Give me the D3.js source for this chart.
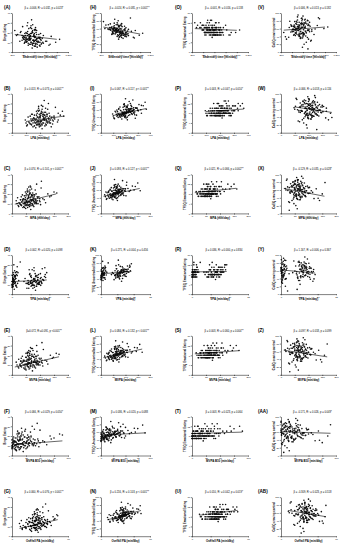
<!DOCTYPE html>
<html><head><meta charset="utf-8">
<script src="https://cdn.jsdelivr.net/npm/d3@7/dist/d3.min.js"></script>
<style>body{margin:0;background:#fff}svg{display:block}text{font-family:"Liberation Sans",Arial,sans-serif}</style>
</head><body>
<svg id="c" width="344" height="550"></svg>
<script>
// participants (x variables)
const sedentary=[520,610,450,700,380,560,640,480,590,730,420,550,670,500,610,350,580,460,690,530,640,410,750,500,570,620,440,680,540,600,470,660,390,560,720,510,630,430,590,700,250,1050,880,300,820,480,560,620,420,760,530,650,400,590,710,460,570,900,340,610,490,680,530,450,740,580,380,640,510,600,980,280,550,620,470,690,430,800,360,520,
540,600,470,650,510,580,430,690,560,620,490,530,710,450,600,570,640,500,520,680,410,590,550,630,480,720,530,610,460,570,660,500,590,440,540,610,700,520,480,650,560,430,620,510,580,470,690,540,600,390,760,510,570,640,450,530,620,860,480,590];
const lpa=[210,180,265,150,300,195,170,240,205,135,280,220,160,250,190,330,200,235,145,215,175,290,125,255,205,185,270,155,225,195,245,165,310,210,140,230,180,275,200,150,360,95,110,345,120,260,215,185,290,130,240,170,305,190,145,255,210,115,325,200,235,160,220,265,135,195,295,175,245,185,100,370,230,280,190,260,140,200,230,330,
225,190,250,175,230,200,270,160,215,185,240,220,150,260,195,205,180,235,225,165,285,200,215,180,245,140,225,190,255,210,170,235,205,265,220,190,155,230,250,175,210,275,185,240,205,250,160,220,195,300,130,230,210,175,265,225,190,105,245,200];
const mpa=[62,48,85,40,96,58,52,74,66,30,110,70,45,80,55,128,61,77,38,68,50,98,28,83,63,53,90,42,72,57,79,47,104,64,35,76,51,93,60,39,150,15,22,140,25,88,67,54,102,33,70,49,115,59,37,82,65,20,120,56,78,44,69,86,31,62,100,48,75,58,18,135,105,45,60,30,70,55,160,85,
65,55,78,47,70,60,88,42,66,52,74,68,38,82,56,63,50,72,69,45,92,58,64,50,76,34,71,55,84,62,46,73,60,86,67,54,40,70,79,48,63,90,53,75,61,81,43,68,57,99,32,72,64,49,87,66,55,24,77,59];
const vpa=[0.4,5.8,6.9,0.2,7.8,1.1,4.9,6.2,0.8,0.1,8.3,5.1,1.5,7.2,0.3,8.9,5.5,0.6,4.3,6.6,0.9,7.5,0.2,5.9,1.3,6.4,7.0,0.5,4.6,0.7,6.8,5.2,8.1,1.0,0.3,6.1,4.7,7.4,0.4,5.6,9.3,0.0,0.1,8.7,3.8,0.5,6.3,1.2,7.7,0.2,5.4,0.6,8.5,4.4,0.1,6.7,1.4,3.5,8.0,0.8,6.0,5.0,0.3,7.1,0.4,5.7,7.9,1.6,6.5,0.2,0.0,9.0,2.2,4.0,8.8,1.8,0.9,5.3,7.6,3.2,
5.2,0.6,6.4,0.3,5.8,1.0,7.1,0.2,4.8,5.5,6.0,0.8,0.1,6.9,4.5,1.2,5.0,6.3,0.5,0.3,7.6,4.9,0.7,5.3,6.6,0.2,1.4,5.7,7.0,0.9,4.4,6.2,0.6,7.3,5.9,1.1,0.2,6.5,6.8,4.2,0.4,7.8,5.1,6.1,0.9,6.7,0.3,5.6,1.3,8.2,0.1,6.4,5.4,0.5,7.2,1.0,4.6,0.0,6.0,5.2];
const mvpa=[62,54,92,40,104,59,57,80,67,30,118,75,47,87,55,137,66,78,42,74,51,105,28,89,64,59,97,43,77,58,86,52,112,65,35,82,56,100,60,45,158,15,22,148,29,88,73,55,110,33,75,50,124,63,37,89,66,24,128,57,84,49,69,93,31,68,108,50,81,58,18,144,107,49,69,32,71,60,168,88,
70,56,84,47,76,61,95,42,71,58,80,69,38,89,61,64,55,78,70,45,100,63,65,55,83,34,72,61,91,63,50,79,61,93,73,55,40,77,86,52,63,98,58,81,62,88,43,74,58,107,32,78,69,50,94,67,60,24,83,64];
const mvpaB10=[18,10,35,5,46,14,8,28,20,2,55,22,6,30,12,68,17,26,4,21,9,40,1,33,15,11,38,5,24,13,29,7,50,16,3,27,10,42,14,6,85,0,0,75,1,36,20,11,48,2,23,8,58,15,3,31,17,0,62,12,25,6,19,34,2,16,44,9,27,13,0,70,45,7,40,5,30,20,90,50,
22,12,30,6,25,15,38,4,20,10,28,19,2,33,13,16,9,27,21,5,41,14,18,9,31,1,23,12,36,17,7,26,15,37,24,11,3,25,32,8,16,40,11,29,17,34,4,22,13,47,1,27,19,6,39,18,10,0,30,14];
const overallPA=[26,22,34,18,38,25,23,30,27,15,40,29,20,32,24,44,26,31,19,28,22,37,14,33,26,24,35,19,29,25,31,21,39,26,17,30,23,36,25,20,48,8,11,46,12,33,28,24,37,16,30,21,41,25,18,32,27,10,42,24,31,20,28,34,15,26,38,22,30,24,9,45,36,27,26,22,22,25,49,38,
28,24,32,21,29,26,35,19,28,24,30,28,17,33,25,26,23,30,28,20,36,26,27,23,31,15,28,25,33,27,21,30,26,34,28,24,18,29,32,22,27,35,24,30,26,32,19,28,25,38,14,29,27,22,34,28,24,11,31,26];
// participants (y variables)
const binge=[12,16,14,10,17,8,13,21,11,9,15,19,11,12,22,20,9,13,14,8,18,13,10,24,7,12,17,15,10,19,11,14,26,9,12,15,20,10,16,6,22,13,8,18,11,30,4,23,9,17,25,5,14,12,19,10,28,16,11,15,7,18,13,20,14,9,12,22,8,16,10,17,33,6,27,14,19,11,21,13,
14,11,19,8,13,16,10,7,21,12,9,17,13,15,6,20,11,18,14,10,16,12,24,9,13,8,19,15,11,22,10,14,18,12,27,9,15,13,17,11,20,13,8,16,12,19,14,10,23,15,9,18,12,14,11,16,25,7,13,17];
const uncontrolled=[55,48,60,46,58,42,53,62,50,44,64,51,57,49,67,70,45,54,60,40,52,63,47,56,38,59,50,66,44,53,61,43,72,55,49,57,65,46,52,41,78,48,36,69,53,84,33,72,45,58,75,35,56,50,62,47,68,55,59,42,46,57,51,64,54,39,63,49,70,52,43,60,80,37,74,56,48,87,58,50,
54,47,62,43,57,51,59,40,65,49,52,60,45,56,41,66,48,58,53,44,63,50,68,46,55,39,61,52,57,64,47,56,59,51,71,42,50,54,62,48,58,53,44,60,49,67,46,55,69,57,42,61,52,50,58,55,73,38,54,60];
const emotional=[9,10,8,9,11,8,10,9,8,9,10,8,9,11,9,12,8,10,9,7,9,11,8,10,7,9,10,12,8,9,10,8,11,9,8,10,12,7,9,8,12,9,7,11,9,13,6,12,8,10,13,7,9,8,10,9,11,8,10,7,8,10,9,11,8,7,9,10,12,9,8,10,13,7,12,9,8,11,10,9,
8,8,9,8,7,9,8,7,10,8,8,9,7,8,7,10,8,9,8,7,9,8,10,7,8,7,9,8,8,10,7,8,9,8,11,7,8,8,9,7,9,8,7,8,7,10,8,7,11,9,7,9,8,8,7,8,10,7,8,9];
const craving=[62,45,78,55,70,38,84,60,50,66,58,35,72,90,48,63,80,42,57,68,74,52,30,65,86,47,69,55,40,92,61,25,67,53,76,44,82,58,36,71,50,64,88,33,59,46,73,20,66,57,42,77,54,12,68,49,62,85,38,70,56,81,44,63,28,74,51,66,95,47,60,39,52,72,58,8,65,45,79,55,
64,50,73,41,59,87,53,68,35,62,76,48,57,66,43,70,54,82,61,37,58,72,46,63,79,52,40,67,56,74,49,61,84,45,69,57,33,65,71,52,60,43,75,55,64,48,80,58,39,66,53,70,47,62,57,76,44,68,51,63];

const xTitles=["Sedentary time (min/day)","LPA (min/day)","MPA (min/day)","VPA (min/day)","MVPA (min/day)","MVPA B10 (min/day)","Overall PA (min/day)"];
const xDomains=[[200,1200],[0,400],[0,200],[0,15],[0,200],[0,100],[0,60]];
const xTicks=[[200,400,600,800,1000,1200],[0,100,200,300,400],[0,50,100,150,200],[0,5,10,15],[0,50,100,150,200],[0,25,50,75,100],[0,20,40,60]];
const yTitles=["Binge Eating","TFEQ Uncontrolled Eating","TFEQ Emotional Eating","CoEQ craving control"];
const yDomains=[[0,40],[0,100],[0,16],[0,100]];
const yTicks=[[0,10,20,30,40],[0,20,40,60,80,100],[0,4,8,12,16],[0,20,40,60,80,100]];
const panelLabels=[["A","B","C","D","E","F","G"],["H","I","J","K","L","M","N"],["O","P","Q","R","S","T","U"],["V","W","X","Y","Z","AA","AB"]];
const stats=[
["β = -0.006, R² = 0.032, p = 0.023*","β = 0.013, R² = 0.073, p = 0.001**","β = 0.074, R² = 0.101, p < 0.001**","β = 0.002, R² = 0.020, p = 0.098","β=0.072, R²=0.091, p <0.001**","β = 0.066, R² = 0.029, p = 0.050*","β = 0.060, R² = 0.076, p < 0.001**"],
["β = -0.024, R² = 0.081, p < 0.001**","β = 0.067, R² = 0.117, p < 0.001**","β = 0.093, R² = 0.127, p < 0.001**","β = 0.271, R² = 0.004, p = 0.456","β = 0.084, R² = 0.132, p < 0.001**","β = 0.036, R² = 0.020, p = 0.088","β = 0.216, R² = 0.103, p < 0.001**"],
["β = -0.001, R² = 0.016, p = 0.138","β = 0.003, R² = 0.047, p = 0.010*","β = 0.021, R² = 0.066, p = 0.002**","β = 0.036, R² = 0.000, p = 0.834","β = 0.003, R² = 0.060, p = 0.004**","β = 0.003, R² = 0.023, p = 0.064","β = 0.010, R² = 0.042, p = 0.019*"],
["β = 0.006, R² = 0.013, p = 0.182","β = -0.066, R² = 0.018, p = 0.116","β = -0.129, R² = 0.035, p = 0.028*","β = 1.167, R² = 0.006, p = 0.367","β = -0.097, R² = 0.018, p = 0.099","β = -0.171, R² = 0.026, p = 0.049*","β = -0.309, R² = 0.023, p = 0.518"]];
// fitted line ends (x range per row, y start/end per panel)
const lineX=[[250,1000],[100,370],[10,158],[0,9.3],[10,168],[0,90],[8,49]];
const lineY=[
[[18,13],[11.5,17],[9.5,20],[12.8,14.5],[8,18.5],[11,15],[8,17]],
[[64,46],[44,62],[44,64],[52,58],[44,66],[52,58],[42,66]],
[[9.6,8.9],[8.7,9.7],[8.5,10.3],[9.1,9.3],[8.6,9.9],[9.0,9.6],[8.6,10.6]],
[[56,64],[66,52],[64,44],[62,54],[63,46],[61,57],[66,50]]];

const xData=[sedentary,lpa,mpa,vpa,mvpa,mvpaB10,overallPA];
const yData=[binge,uncontrolled,emotional,craving];

const svg=d3.select("#c");
const colPlot=[[12,68],[101,150],[192,248],[281,336]];
const colLabel=[4,90,175,258];
const rowPitch=80.7;
const FONT="'Liberation Sans',Arial,sans-serif";

for(let c=0;c<4;c++){
  for(let r=0;r<7;r++){
    const top=r*rowPitch;
    const g=svg.append("g");
    const x=d3.scaleLinear().domain(xDomains[r]).range(colPlot[c]);
    const y=d3.scaleLinear().domain(yDomains[c]).range([top+52,top+13]);
    const xs=xData[r], ys=yData[c];
    g.selectAll("circle").data(xs.map((v,i)=>[v,ys[i]])).join("circle")
      .attr("cx",d=>x(d[0])).attr("cy",d=>y(d[1])).attr("r",0.8).attr("fill","#111");
    const ax=g.append("g").attr("transform",`translate(0,${top+52})`)
      .call(d3.axisBottom(x).tickValues(xTicks[r]).tickSize(1.2).tickPadding(0.6).tickSizeOuter(0));
    const ay=g.append("g").attr("transform",`translate(${colPlot[c][0]},0)`)
      .call(d3.axisLeft(y).tickValues(yTicks[c]).tickSize(1.2).tickPadding(0.6).tickSizeOuter(0));
    [ax,ay].forEach(a=>{a.selectAll("path,line").attr("stroke","#000").attr("stroke-width",0.5);
      a.selectAll("text").attr("font-size",2.4).attr("fill","#000").attr("font-family",FONT);});
    g.append("line").attr("x1",x(lineX[r][0])).attr("x2",x(lineX[r][1]))
      .attr("y1",y(lineY[c][r][0])).attr("y2",y(lineY[c][r][1]))
      .attr("stroke","#000").attr("stroke-width",0.6);
    g.append("text").attr("x",colLabel[c]).attr("y",top+9).attr("font-size",4.6)
      .attr("font-weight","bold").text("("+panelLabels[c][r]+")");
    g.append("text").attr("x",(colPlot[c][0]+colPlot[c][1])/2+4).attr("y",top+9)
      .attr("text-anchor","middle").attr("font-size",2.6).text(stats[c][r]);
    g.append("text").attr("x",(colPlot[c][0]+colPlot[c][1])/2).attr("y",top+58)
      .attr("text-anchor","middle").attr("font-size",2.9).attr("font-weight","bold").text(xTitles[r]);
    g.append("text").attr("transform",`translate(${colPlot[c][0]-6.5},${top+32.5}) rotate(-90)`)
      .attr("text-anchor","middle").attr("font-size",2.9).attr("font-weight","bold").text(yTitles[c]);
  }
}
</script>
</body></html>
